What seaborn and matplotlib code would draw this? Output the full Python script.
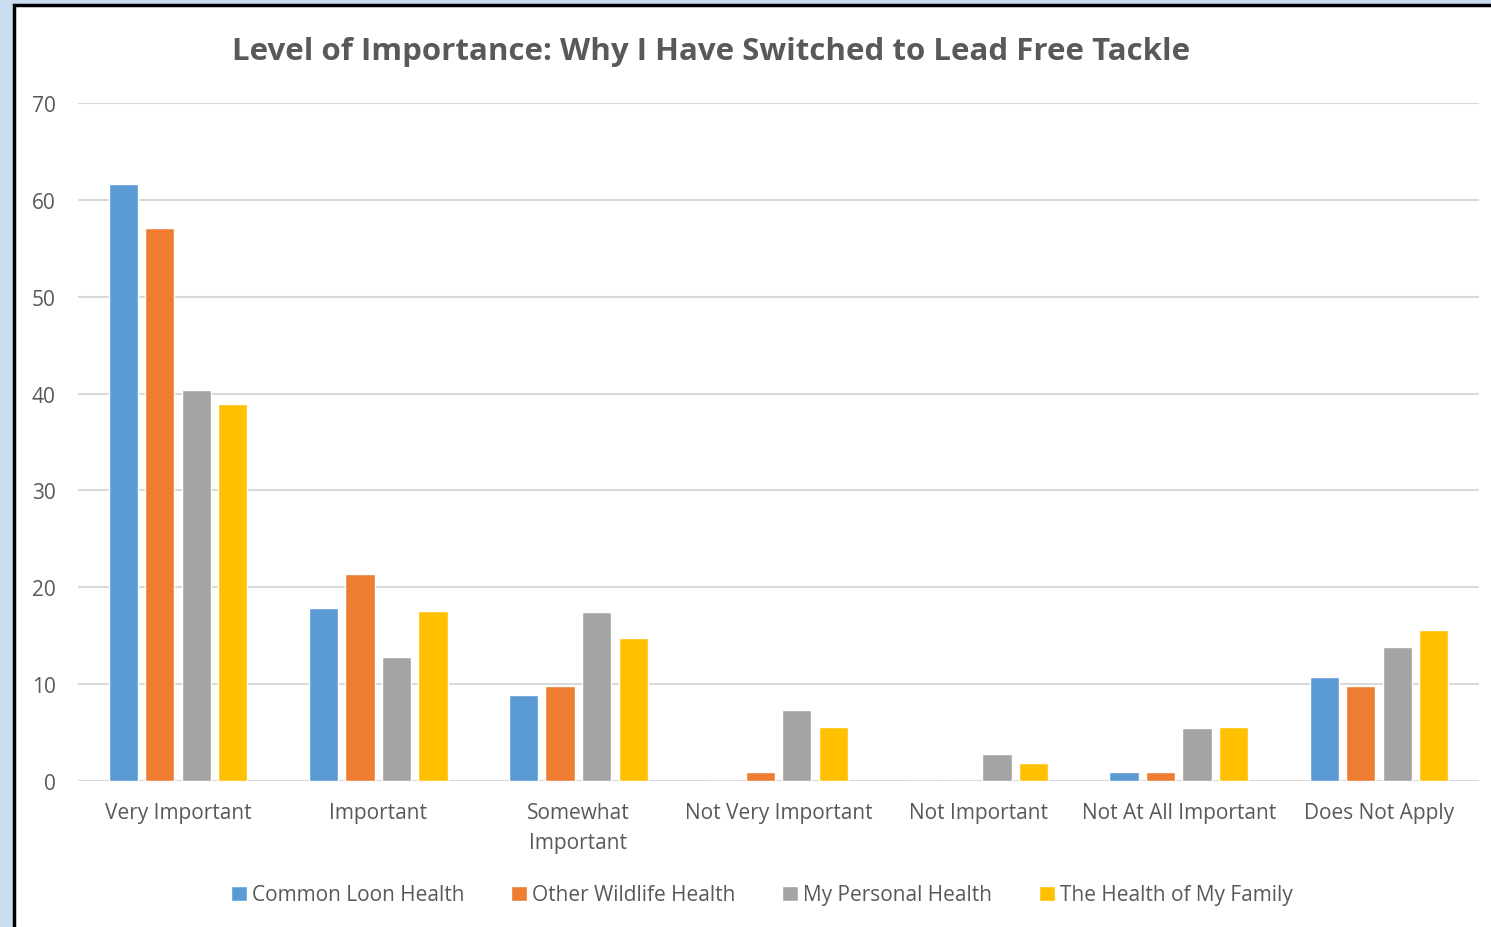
import pandas as pd
import matplotlib.pyplot as plt
import seaborn as sns
from matplotlib.patches import Rectangle

categories = ['Very Important', 'Important', 'Somewhat\nImportant', 'Not Very Important',
              'Not Important', 'Not At All Important', 'Does Not Apply']
series = ['Common Loon Health', 'Other Wildlife Health', 'My Personal Health', 'The Health of My Family']
loon = [61.6, 17.9, 8.9, 0, 0, 0.9, 10.7]
wildlife = [57.1, 21.4, 9.8, 0.9, 0, 0.9, 9.8]
personal = [40.4, 12.8, 17.4, 7.3, 2.8, 5.5, 13.8]
family = [38.9, 17.6, 14.8, 5.6, 1.9, 5.6, 15.6]
colors = ['#5b9bd5', '#ed7d31', '#a5a5a5', '#ffc000']

df = pd.DataFrame({
    'cat': categories * 4,
    'series': [s for s in series for _ in categories],
    'value': loon + wildlife + personal + family,
})

sns.set_style('white')
plt.rcParams['font.family'] = ['Open Sans', 'DejaVu Sans']
txt = '#595959'

fig = plt.figure(figsize=(14.91, 9.28), dpi=100)
# background strips and frame like the screenshot
fig.patches.append(Rectangle((0, 0), 1, 1, transform=fig.transFigure, color='#c9dcf0', zorder=-3))
fig.patches.append(Rectangle((14 / 1491, -0.05), 1.1, 1.05 - 6 / 928, transform=fig.transFigure,
                             facecolor='white', edgecolor='black', linewidth=2.5, zorder=-2))

ax = fig.add_axes([78 / 1491, 1 - 782 / 928, 1401 / 1491, 678 / 928])
sns.barplot(data=df, x='cat', y='value', hue='series', palette=colors, ax=ax,
            width=0.73, gap=0.2, saturation=1, legend=True)

ax.set_ylim(0, 70)
ax.set_xlim(-0.5, 6.5)
ax.set_yticks(range(0, 71, 10))
ax.grid(axis='y', color='#d9d9d9', linewidth=1.5)
ax.set_axisbelow(True)
for s in ax.spines.values():
    s.set_visible(False)
ax.tick_params(axis='both', length=0, labelsize=15, colors=txt, pad=16)
ax.tick_params(axis='x', pad=15)
for lab in ax.get_xticklabels():
    lab.set_linespacing(1.55)
ax.set_xlabel('')
ax.set_ylabel('')

fig.text(0.477, 1 - 52 / 928, 'Level of Importance: Why I Have Switched to Lead Free Tackle',
         ha='center', va='center', fontsize=22.5, fontweight='bold', color=txt)

leg = ax.legend(loc='center', bbox_to_anchor=(0.488, (782 - 896) / 678), ncol=4, frameon=False,
                fontsize=15, handlelength=0.75, handleheight=0.75, handletextpad=0.25,
                columnspacing=2.25, labelcolor=txt)

fig.savefig('out.png', dpi=100)
